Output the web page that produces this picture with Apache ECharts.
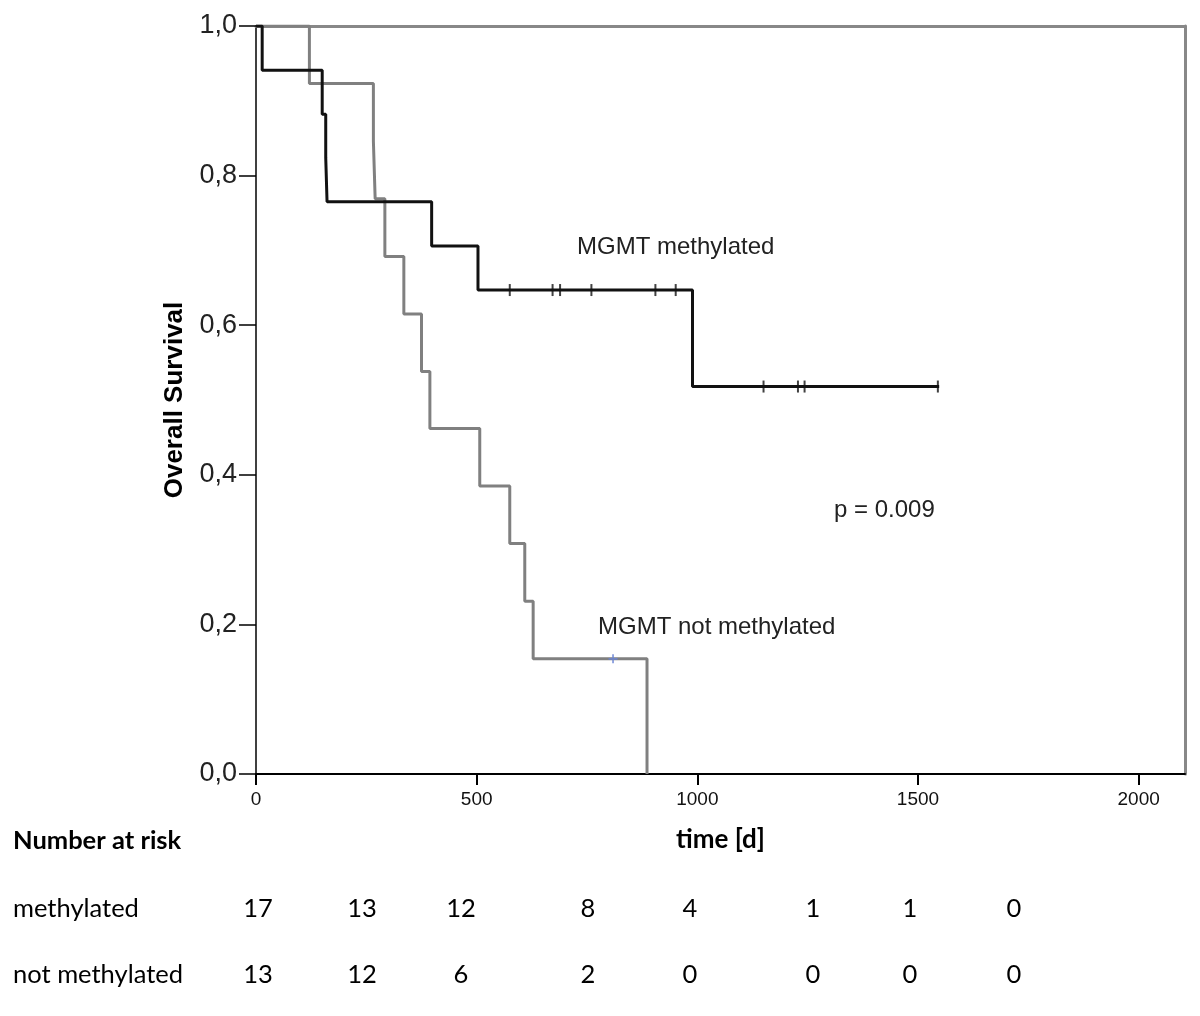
<!DOCTYPE html>
<html>
<head>
<meta charset="utf-8">
<script src="https://cdn.jsdelivr.net/npm/echarts@6/dist/echarts.min.js"></script>
<style>html,body{margin:0;padding:0;background:#fff}#c{width:1200px;height:1016px}</style>
</head>
<body>
<div id="c"></div>
<script>
// ---- data ----
var methylatedCurve = [[0,1],[14,0.941],[150,0.882],[158,0.824],[161,0.765],[398,0.706],[503,0.647],[989,0.518],[1548,0.518]];
var methylatedCensored = [[575,0.647],[672,0.647],[689,0.647],[760,0.647],[905,0.647],[951,0.647],[1150,0.518],[1228,0.518],[1243,0.518],[1545,0.518]];
var notMethylatedCurve = [[0,1],[121,0.923],[266,0.846],[270,0.769],[292,0.692],[335,0.615],[375,0.538],[394,0.462],[507,0.385],[575,0.308],[609,0.231],[628,0.154],[886,0]];
var notMethylatedCensored = [[809,0.154]];
var riskMethylated = [17,13,12,8,4,1,1,0];
var riskNotMethylated = [13,12,6,2,0,0,0,0];
var rowLabels = ['methylated','not methylated'];
var annotations = ['MGMT methylated','p = 0.009','MGMT not methylated'];

// ---- layout ----
var riskColX = [258,362,461,588,690,813,910,1014];
var riskRowY = [909,975];
var annPos = [[577,247],[834,510],[598,627]];

var chart = echarts.init(document.getElementById('c'));
var graphics = [];
graphics.push({type:'text', x:13, y:841, style:{text:'Number at risk', font:'bold 25.5px Lato', fill:'#000', verticalAlign:'middle'}});
rowLabels.forEach(function(t,i){
  graphics.push({type:'text', x:13, y:riskRowY[i], style:{text:t, font:'25.5px Lato', fill:'#000', verticalAlign:'middle'}});
});
[riskMethylated, riskNotMethylated].forEach(function(row,i){
  row.forEach(function(v,j){
    graphics.push({type:'text', x:riskColX[j], y:riskRowY[i], style:{text:String(v), font:'25.5px Lato', fill:'#000', align:'center', verticalAlign:'middle'}});
  });
});
annotations.forEach(function(t,i){
  graphics.push({type:'text', x:annPos[i][0], y:annPos[i][1], style:{text:t, font:'24px "Liberation Sans", Arial', fill:'#222', verticalAlign:'middle'}});
});

var plus = 'path://M4,0 L6,0 L6,4 L10,4 L10,6 L6,6 L6,10 L4,10 L4,6 L0,6 L0,4 L4,4 Z';

chart.setOption({
  animation:false,
  backgroundColor:'#fff',
  grid:{left:256, top:26, right:15, bottom:242},
  xAxis:[{
    type:'value', min:0, max:2105, interval:500,
    name:'time [d]', nameLocation:'middle', nameGap:53,
    nameTextStyle:{fontFamily:'Lato', fontWeight:'bold', fontSize:26, color:'#000'},
    axisLine:{onZero:false, lineStyle:{color:'#000', width:2}},
    axisTick:{length:11, lineStyle:{color:'#000', width:2}},
    axisLabel:{showMaxLabel:false, margin:16, fontFamily:'"Liberation Sans", Arial', fontSize:19, color:'#111',
      formatter:function(v){return String(v);}},
    splitLine:{show:false}
  },{
    type:'value', position:'top', min:0, max:2105,
    axisLine:{show:true, onZero:false, lineStyle:{color:'#888', width:3}},
    axisTick:{show:false}, axisLabel:{show:false}, splitLine:{show:false}
  }],
  yAxis:[{
    type:'value', min:0, max:1, interval:0.2,
    name:'Overall Survival', nameLocation:'middle', nameGap:68,
    nameTextStyle:{fontFamily:'"Liberation Sans", Arial', fontWeight:'bold', fontSize:26, color:'#000'},
    axisLine:{show:true, onZero:false, lineStyle:{color:'#000', width:1.5}},
    axisTick:{show:true, length:17, lineStyle:{color:'#000', width:1.5}},
    axisLabel:{margin:19, fontFamily:'"Liberation Sans", Arial', fontSize:27, color:'#222',
      formatter:function(v){return v.toFixed(1).replace('.',',');}},
    splitLine:{show:false}
  },{
    type:'value', position:'right', min:0, max:1,
    axisLine:{show:true, onZero:false, lineStyle:{color:'#888', width:3}},
    axisTick:{show:false}, axisLabel:{show:false}, splitLine:{show:false}
  }],
  series:[
    {type:'line', step:'end', data:notMethylatedCurve, showSymbol:false, lineStyle:{color:'#808080', width:3}, z:2},
    {type:'line', step:'end', data:methylatedCurve, showSymbol:false, lineStyle:{color:'#111', width:3}, z:3},
    {type:'scatter', data:methylatedCensored, symbol:'rect', symbolSize:[2,12], itemStyle:{color:'#111'}, z:4},
    {type:'scatter', data:notMethylatedCensored, symbol:plus, symbolSize:9, itemStyle:{color:'#6a84d6'}, z:4}
  ],
  graphic:graphics
});
</script>
</body>
</html>
